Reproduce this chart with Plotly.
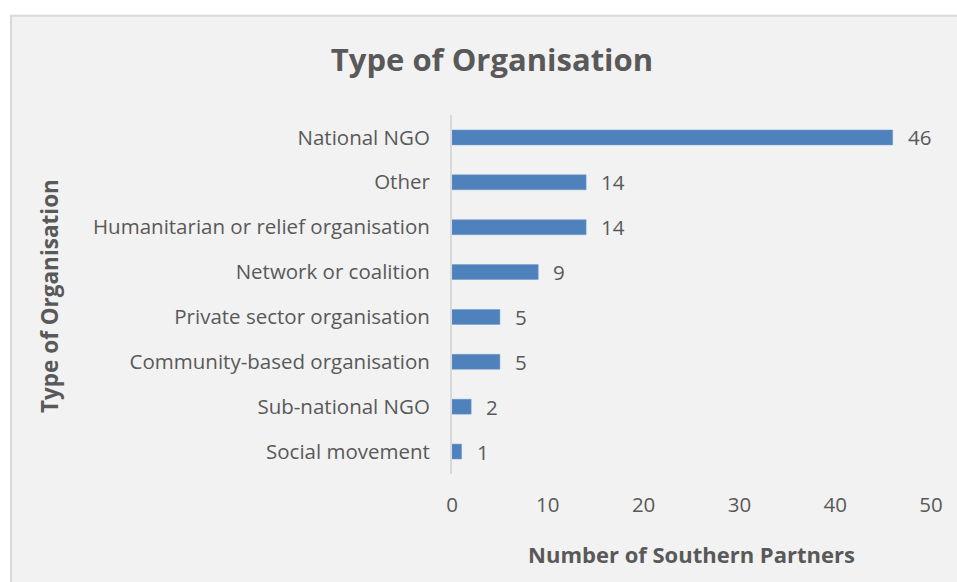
import plotly.graph_objects as go

categories = ["National NGO", "Other", "Humanitarian or relief organisation",
              "Network or coalition", "Private sector organisation",
              "Community-based organisation", "Sub-national NGO", "Social movement"]
values = [46, 14, 14, 9, 5, 5, 2, 1]
x_ticks = [0, 10, 20, 30, 40, 50]

W, H = 957, 582
L, R, T, B = 452, 26, 114.5, 107.5
pw, ph = W - L - R, H - T - B

FONT = "Open Sans"
TXT = "#595959"

fig = go.Figure()
fig.add_trace(go.Bar(
    x=values, y=categories, orientation="h",
    marker=dict(color="#4f81bd", line=dict(color="#6f9bd1", width=0.5)),
    hoverinfo="skip",
))

for c, v in zip(categories, values):
    fig.add_annotation(x=v, y=c, xref="x", yref="y", text=str(v), showarrow=False,
                       xanchor="left", xshift=13, font=dict(family=FONT, size=20.5, color=TXT))

# chart area background
fig.add_shape(type="rect", xref="paper", yref="paper", layer="below",
              x0=(11 - L) / pw, x1=(W + 30 - L) / pw,
              y0=-0.5, y1=(H - 15 - B) / ph,
              fillcolor="#f2f2f2", line=dict(color="#d9d9d9", width=2))

fig.add_annotation(xref="paper", yref="paper", x=(50 - L) / pw, y=(H - 296 - B) / ph,
                   text="<b>Type of Organisation</b>", textangle=-90, showarrow=False,
                   xanchor="center", yanchor="middle",
                   font=dict(family=FONT, size=22.5, color=TXT))

fig.update_layout(
    width=W, height=H,
    margin=dict(l=L, r=R, t=T, b=B, pad=0),
    paper_bgcolor="white", plot_bgcolor="rgba(0,0,0,0)",
    bargap=0.667, showlegend=False,
    title=dict(text="<b>Type of Organisation</b>", x=492 / W, xref="container", xanchor="center",
               y=1 - 60 / H, yref="container", yanchor="middle",
               font=dict(family=FONT, size=31, color=TXT)),
    xaxis=dict(range=[0, 50], tickvals=x_ticks, showgrid=False, zeroline=False, showline=False,
               ticks="", ticklabelstandoff=16,
               tickfont=dict(family=FONT, size=20.5, color=TXT),
               title=dict(text="<b>Number of Southern Partners</b>", standoff=31,
                          font=dict(family=FONT, size=22, color=TXT))),
    yaxis=dict(autorange="reversed", showgrid=False, zeroline=False, showline=True,
               linecolor="#d9d9d9", linewidth=2, ticks="", ticklabelstandoff=16,
               tickfont=dict(family=FONT, size=20.5, color=TXT)),
)

fig.write_html("out.html")
